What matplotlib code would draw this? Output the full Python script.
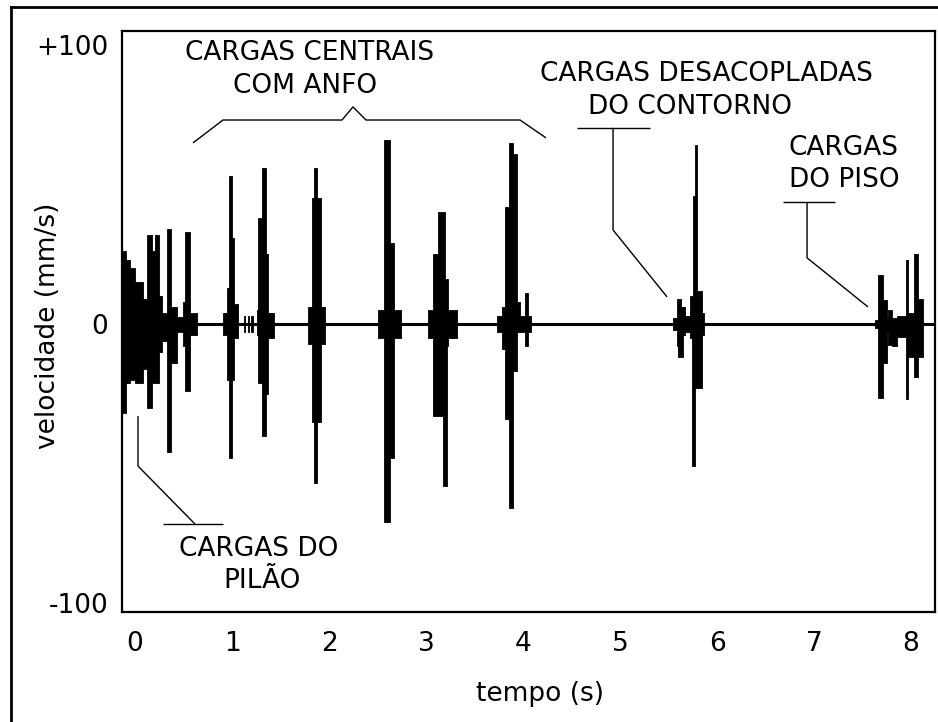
import matplotlib

matplotlib.use("Agg")
import matplotlib.pyplot as plt
from matplotlib.lines import Line2D

plt.rcParams["font.family"] = ["DejaVu Sans"]

# tick labels
X_TICKS = [0, 1, 2, 3, 4, 5, 6, 7, 8]
Y_TICKS = [100, 0, -100]
Y_TICK_LABELS = ["+100", "0", "-100"]

# envelopes of each burst: time (s), upper / lower velocity (mm/s)
PILAO_T = [-0.134, -0.093, -0.052, 0.0, 0.082, 0.124, 0.175, 0.206, 0.247, 0.278, 0.33, 0.371, 0.433, 0.495, 0.515, 0.567, 0.64]
PILAO_HI = [26, 23, 20, 15, 9, 32, 26, 32, 10, 4, 34, 6, 2.5, 8, 33, 4, 0]
PILAO_LO = [-32, -21, -20, -21, -16, -30, -21, -21, -10, -6, -46, -14, -3, -8, -24, -4, 0]

C1_T = [0.907, 0.948, 0.964, 0.997, 1.024, 1.06, 1.12, 1.135, 1.16, 1.175, 1.2, 1.215]
C1_HI = [4, 13, 53, 31, 7, 0, 3, 0, 3, 0, 3, 0]
C1_LO = [-4, -20, -48, -20, -5, 0, -3, 0, -3, 0, -3, 0]

C2_T = [1.254, 1.271, 1.306, 1.347, 1.375, 1.436]
C2_HI = [5, 38, 56, 25, 4, 0]
C2_LO = [-4, -21, -40, -25, -5, 0]

C3_T = [1.78, 1.82, 1.842, 1.876, 1.918, 1.959]
C3_HI = [6, 45, 56, 45, 6, 0]
C3_LO = [-7, -35, -57, -35, -7, 0]

C4_T = [2.51, 2.567, 2.629, 2.67, 2.739]
C4_HI = [5, 66, 29, 5, 0]
C4_LO = [-5, -71, -48, -5, 0]

C5_T = [3.024, 3.075, 3.127, 3.18, 3.196, 3.22, 3.23, 3.316]
C5_HI = [5, 25, 40, 40, 16, 16, 5, 0]
C5_LO = [-5, -33, -33, -58, -58, -8, -5, 0]

C6_T = [3.729, 3.78, 3.814, 3.86, 3.9, 3.935, 3.969, 4.02, 4.055, 4.08]
C6_HI = [3, 6, 42, 65, 61, 8, 3, 11, 3, 0]
C6_LO = [-3, -9, -34, -66, -17, -3, -3, -8, -3, 0]

CONTORNO_T = [5.55, 5.584, 5.6, 5.625, 5.646, 5.67, 5.722, 5.739, 5.756, 5.77, 5.797, 5.842, 5.866]
CONTORNO_HI = [2, 9, 9, 6, 6, 3, 10, 10, 46, 64, 12, 4, 0]
CONTORNO_LO = [-2, -8, -12, -12, -4, -3, -5, -51, -51, -23, -23, -4, 0]

PISO_T = [7.629, 7.663, 7.715, 7.756, 7.766, 7.8, 7.852, 7.945, 7.972, 8.03, 8.075, 8.127]
PISO_HI = [1.5, 17.6, 8.6, 2, 5, 2, 3, 23, 4, 25, 9, 0]
PISO_LO = [-1.5, -26.5, -14, -3, -7.5, -8, -4.6, -27, -12, -19, -12, 0]

BURSTS = [
    (PILAO_T, PILAO_HI, PILAO_LO),
    (C1_T, C1_HI, C1_LO),
    (C2_T, C2_HI, C2_LO),
    (C3_T, C3_HI, C3_LO),
    (C4_T, C4_HI, C4_LO),
    (C5_T, C5_HI, C5_LO),
    (C6_T, C6_HI, C6_LO),
    (CONTORNO_T, CONTORNO_HI, CONTORNO_LO),
    (PISO_T, PISO_HI, PISO_LO),
]

FS = 19
LEADER = dict(color="black", lw=1.0, solid_capstyle="butt")

fig = plt.figure(figsize=(9.38, 7.22), dpi=100)
ax = fig.add_axes([122 / 938, 1 - 612 / 722, 813 / 938, 581 / 722])

XMIN, XMAX = -0.134, 8.247
ax.set_xlim(XMIN, XMAX)
ax.set_ylim(-103.2, 105)

# zero line and bursts
ax.plot([XMIN, XMAX], [0, 0], color="black", lw=2.2, solid_capstyle="butt")
for t, hi, lo in BURSTS:
    ax.fill_between(t, lo, hi, step="post", color="black", lw=0.6, edgecolor="black")

# annotations
ax.plot([0.598, 0.907, 2.134, 2.247, 2.381, 3.969, 4.237],
        [64.9, 73.1, 73.1, 77.8, 73.1, 73.1, 66.7], **LEADER)
ax.text(1.804, 97.1, "CARGAS CENTRAIS", ha="center", va="center", fontsize=FS)
ax.text(1.753, 85.3, "COM ANFO", ha="center", va="center", fontsize=FS)

ax.plot([0.031, 0.031, 0.619], [-33, -50.9, -71.7], **LEADER)
ax.plot([0.289, 0.907], [-71.7, -71.7], **LEADER)
ax.text(1.278, -80.6, "CARGAS DO", ha="center", va="center", fontsize=FS)
ax.text(1.309, -92.1, "PILÃO", ha="center", va="center", fontsize=FS)

ax.plot([4.557, 5.309], [70.3, 70.3], **LEADER)
ax.plot([4.928, 4.928, 5.485], [70.3, 33.7, 9.7], **LEADER)
ax.text(5.887, 89.6, "CARGAS DESACOPLADAS", ha="center", va="center", fontsize=FS)
ax.text(5.722, 77.8, "DO CONTORNO", ha="center", va="center", fontsize=FS)

ax.plot([6.68, 7.216], [43.7, 43.7], **LEADER)
ax.plot([6.928, 6.928, 7.557], [43.7, 23.7, 6.1], **LEADER)
ax.text(7.299, 63.1, "CARGAS", ha="center", va="center", fontsize=FS)
ax.text(7.309, 51.6, "DO PISO", ha="center", va="center", fontsize=FS)

# axes styling
ax.set_xticks(X_TICKS)
ax.set_yticks(Y_TICKS)
ax.set_yticklabels(Y_TICK_LABELS)
ax.tick_params(length=0, labelsize=FS)
ax.tick_params(axis="x", pad=14)
ax.tick_params(axis="y", pad=10)
for sp in ax.spines.values():
    sp.set_linewidth(1.6)

ax.set_xlabel("tempo (s)", fontsize=FS)
ax.set_ylabel("velocidade (mm/s)", fontsize=FS)
ax.xaxis.set_label_coords(0.514, -0.118)
ax.yaxis.set_label_coords(-0.075, 0.492)

# outer frame (left and top edges visible)
fig.add_artist(Line2D([10.5 / 938, 10.5 / 938], [0, 1 - 7 / 722], color="black", lw=2,
                      transform=fig.transFigure))
fig.add_artist(Line2D([10.5 / 938, 1], [1 - 7 / 722, 1 - 7 / 722], color="black", lw=2,
                      transform=fig.transFigure))

fig.savefig("out.png", dpi=100)
plt.close()
